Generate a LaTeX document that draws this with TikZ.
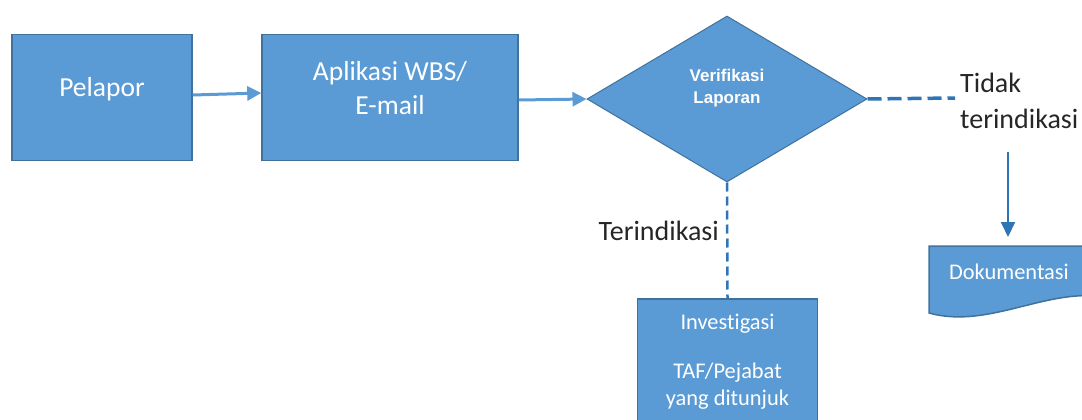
\documentclass[tikz,border=0pt]{standalone}
\usepackage{fontspec}
\setmainfont{Carlito}[Ligatures=NoCommon]
\newfontfamily\arialfont{Liberation Sans}
\usetikzlibrary{shapes.geometric,arrows.meta}
\definecolor{boxfill}{HTML}{5B9BD5}
\definecolor{boxline}{HTML}{41719C}
\definecolor{conndark}{HTML}{2E75B6}
\definecolor{connlight}{HTML}{5B9BD5}
\begin{document}
\begin{tikzpicture}[x=1pt,y=-1pt,
  box/.style={draw=boxline, line width=1.5pt, fill=boxfill, inner sep=0pt, rectangle},
  whitetext/.style={text=white, font=\fontsize{27.5}{34}\selectfont, align=center, inner sep=0pt},
  smallwhite/.style={text=white, font=\fontsize{22.4}{27}\selectfont, align=center, inner sep=0pt},
  blacktext/.style={text=black!85, font=\fontsize{28}{36}\selectfont, align=left, inner sep=0pt},
  flowarrow/.style={draw=connlight, line width=3pt, -{Triangle[length=14pt,width=14pt]}},
  dashh/.style={draw=conndark, line width=3.5pt, dash pattern=on 14pt off 6pt},
  dashv/.style={draw=conndark, line width=2.5pt, dash pattern=on 9pt off 5pt},
  downarrow/.style={draw=conndark, line width=2pt, -{Triangle[length=15pt,width=14pt]}}
]
\useasboundingbox (0,0) rectangle (1082,420);
\clip (0,0) rectangle (1082,420);

% boxes
\node[box, minimum width=180pt, minimum height=126pt] (pel) at (102,97.5) {};
\node[whitetext] (peltext) at (102,89) {Pelapor};

\node[box, minimum width=256pt, minimum height=126pt] (apl) at (390,97.5) {};
\node[whitetext] (apltext) at (390,88) {Aplikasi WBS/\\E-mail};

\node[draw=boxline, line width=1pt, fill=boxfill, diamond, inner sep=0pt,
      minimum width=280pt, minimum height=166pt] (ver) at (727,99) {};
\node[text=white, font=\arialfont\bfseries\fontsize{17}{22}\selectfont, align=center, inner sep=0pt]
  (vertext) at (727,88) {Verifikasi\\Laporan};

\node[box, minimum width=180pt, minimum height=140pt, anchor=north] (inv) at (727.5,298) {};
\node[smallwhite] (invtext) at (727.5,362) {Investigasi\\[22pt]TAF/Pejabat\\yang ditunjuk};

% document shape
\draw[draw=boxline, line width=1.5pt, fill=boxfill]
  (929,246) -- (1110,246) -- (1110,298)
  .. controls (1050,285) and (990,330) .. (929,313) -- cycle;
\node[smallwhite] (dok) at (1009,272) {Dokumentasi};
\coordinate (doktop) at (1008,237);

% labels
\node[blacktext, anchor=west] (tidak) at (960,101) {Tidak\\terindikasi};
\node[blacktext, anchor=east] (ter) at (719,231) {Terindikasi};

% connectors
\draw[flowarrow] (pel.east |- 0,95) -- (apl.west |- 0,93);
\draw[flowarrow] (apl.east |- 0,100) -- (ver.west);
\coordinate (tidakleft) at (955,98);
\draw[dashh] (ver.east) -- (tidakleft);
\draw[dashv] (ver.south) -- (inv.north);
\coordinate (tidakbelow) at (1008,152);
\draw[downarrow] (tidakbelow) -- (doktop);
\end{tikzpicture}
\end{document}
